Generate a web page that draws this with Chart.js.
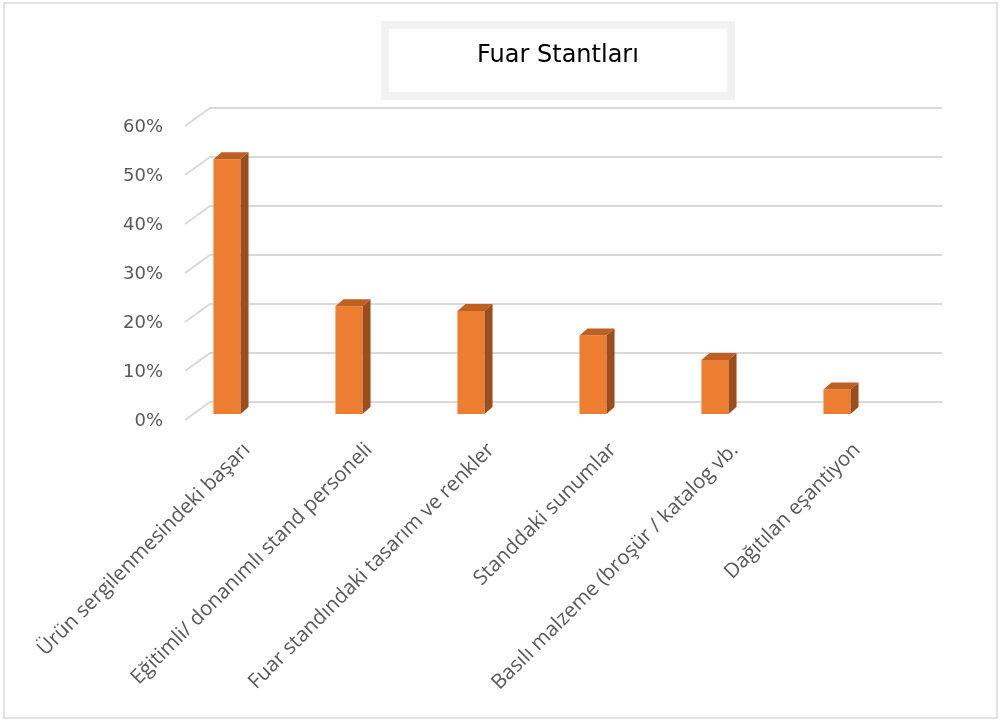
<!DOCTYPE html>
<html>
<head>
<meta charset="utf-8">
<script src="https://cdn.jsdelivr.net/npm/chart.js@4/dist/chart.umd.min.js"></script>
<style>
  html, body { margin: 0; padding: 0; background: #ffffff; }
  #wrap { width: 1003px; height: 720px; position: relative; }
</style>
</head>
<body>
<div id="wrap"><canvas id="c"></canvas></div>
<script>
const chartTitle = "Fuar Stantları";
const categories = [
  "Ürün sergilenmesindeki başarı",
  "Eğitimli/ donanımlı stand personeli",
  "Fuar standındaki tasarım ve renkler",
  "Standdaki sunumlar",
  "Basılı malzeme (broşür / katalog vb.",
  "Dağıtılan eşantiyon"
];
const values = [0.52, 0.22, 0.21, 0.16, 0.11, 0.05];
const yTickValues = [0, 0.1, 0.2, 0.3, 0.4, 0.5, 0.6];

const FRONT = "#ED7D31", TOP = "#BF5F22", SIDE = "#9B4E1C";
const GRID = "#D9D9D9";

const decor = {
  id: 'decor',
  beforeDraw(chart) {
    const ctx = chart.ctx;
    ctx.save();
    ctx.fillStyle = '#ffffff';
    ctx.fillRect(0, 0, chart.width, chart.height);
    ctx.strokeStyle = '#D9D9D9';
    ctx.lineWidth = 1.5;
    ctx.strokeRect(4, 3, 993, 715);
    ctx.fillStyle = '#F2F2F2';
    ctx.fillRect(381, 21, 354, 79);
    ctx.fillStyle = '#ffffff';
    ctx.fillRect(389, 29, 338, 63);
    ctx.fillStyle = '#000000';
    ctx.font = '24px "DejaVu Sans"';
    ctx.textAlign = 'center';
    ctx.textBaseline = 'middle';
    ctx.fillText(chartTitle, 558, 56);
    ctx.restore();
  },
  beforeDatasetsDraw(chart) {
    const ctx = chart.ctx, a = chart.chartArea, ys = chart.scales.y;
    ctx.save();
    ctx.strokeStyle = GRID;
    ctx.lineWidth = 2;
    yTickValues.forEach(v => {
      const y = ys.getPixelForValue(v);
      ctx.beginPath();
      ctx.moveTo(a.left + 19, y + 6);
      ctx.lineTo(a.left + 44, y - 12);
      ctx.lineTo(a.right + 44, y - 12);
      ctx.stroke();
    });
    ctx.restore();
  },
  afterDatasetsDraw(chart) {
    const ctx = chart.ctx;
    const meta = chart.getDatasetMeta(0);
    const dx = 8, dy = 7;
    ctx.save();
    meta.data.forEach(bar => {
      const p = bar.getProps(['x', 'y', 'base', 'width'], true);
      const l = p.x - p.width / 2, r = p.x + p.width / 2;
      ctx.fillStyle = TOP;
      ctx.beginPath();
      ctx.moveTo(l, p.y);
      ctx.lineTo(l + dx, p.y - dy);
      ctx.lineTo(r + dx, p.y - dy);
      ctx.lineTo(r, p.y);
      ctx.closePath();
      ctx.fill();
      ctx.fillStyle = SIDE;
      ctx.beginPath();
      ctx.moveTo(r, p.y);
      ctx.lineTo(r + dx, p.y - dy);
      ctx.lineTo(r + dx, p.base - dy);
      ctx.lineTo(r, p.base);
      ctx.closePath();
      ctx.fill();
    });
    ctx.restore();
  }
};

new Chart(document.getElementById('c'), {
  type: 'bar',
  data: {
    labels: categories,
    datasets: [{
      data: values,
      backgroundColor: FRONT,
      borderWidth: 0,
      categoryPercentage: 1,
      barPercentage: 0.222
    }]
  },
  options: {
    responsive: true,
    maintainAspectRatio: false,
    animation: false,
    layout: { padding: { top: 120, right: 105, bottom: 0, left: 0 } },
    plugins: { legend: { display: false }, title: { display: false }, tooltip: { enabled: false } },
    scales: {
      x: {
        grid: { display: false, drawTicks: false },
        border: { display: false },
        ticks: {
          autoSkip: false, maxRotation: 45, minRotation: 45,
          color: '#595959', font: { family: '"Open Sans"', size: 20.5 },
          padding: 24, labelOffset: 20
        },
        afterFit(s) { s.height = 306; s.paddingLeft = 0; s.paddingRight = 0; }
      },
      y: {
        min: 0, max: 0.6,
        grid: { display: false, drawTicks: false },
        border: { display: false },
        ticks: {
          stepSize: 0.1, padding: 3, labelOffset: 7,
          color: '#595959', font: { family: '"DejaVu Sans"', size: 18 },
          callback: v => Math.round(v * 100) + '%'
        },
        afterFit(s) { s.width = 166; s.paddingTop = 0; s.paddingBottom = 0; }
      }
    }
  },
  plugins: [decor]
});
</script>
</body>
</html>
